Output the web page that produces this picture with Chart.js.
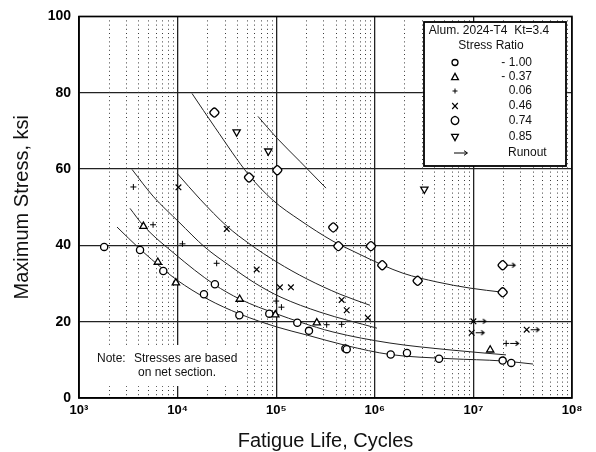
<!DOCTYPE html>
<html>
<head>
<meta charset="utf-8">
<script src="https://cdn.jsdelivr.net/npm/chart.js@4.4.0/dist/chart.umd.min.js"></script>
<style>
  html, body { margin: 0; padding: 0; background: #fff; }
  #wrap { width: 596px; height: 452px; }
</style>
</head>
<body>
<div id="wrap"><canvas id="snChart" width="596" height="452"></canvas></div>
<script>
// Alum. 2024-T4, Kt=3.4 - fatigue life (cycles) vs max stress (ksi)
const FONT = "'Liberation Sans', Arial, sans-serif";

const ratioLabels = ['- 1.00', '- 0.37', '0.06', '0.46', '0.74', '0.85'];

// test points per stress ratio
const cyclesRm100 = [1800, 4160, 7160, 18500, 23900, 42300, 85100, 163700, 215000, 503000, 519000, 1450000, 2120000, 4480000, 19800000, 24200000];
const stressRm100 = [39.6, 38.8, 33.3, 27.2, 29.8, 21.7, 22.1, 19.7, 17.6, 13.0, 12.8, 11.4, 11.8, 10.3, 9.8, 9.2];

const cyclesRm037 = [4500, 6300, 9600, 42600, 98000, 258000, 14800000];
const stressRm037 = [45.0, 35.6, 30.2, 25.9, 21.8, 19.7, 12.6];

const cyclesR006 = [3560, 5640, 11200, 24900, 100000, 113000, 325000, 461000, 21500000];
const stressR006 = [55.3, 45.4, 40.4, 35.3, 25.4, 23.8, 19.2, 19.3, 14.3];

const cyclesR046 = [10200, 31500, 63400, 109000, 141000, 461000, 519000, 850000, 10000000, 9600000, 34700000];
const stressR046 = [55.2, 44.3, 33.7, 29.0, 29.0, 25.7, 23.0, 21.0, 20.1, 17.1, 17.9];

const cyclesR074 = [23600, 53000, 102600, 379000, 427000, 914000, 1190000, 2720000, 19800000, 19800000];
const stressR074 = [74.8, 57.8, 59.7, 44.7, 39.8, 39.8, 34.8, 30.7, 27.7, 34.8];

const cyclesR085 = [39700, 83200, 3180000];
const stressR085 = [69.7, 64.7, 54.7];

// runouts (did not fail)
const runoutCycles = [19800000, 10000000, 9600000, 34700000, 21500000];
const runoutStress = [34.8, 20.1, 17.1, 17.9, 14.3];

// best-fit curves
const fitCycles085 = [65300, 101900, 174200, 320000];
const fitStress085 = [73.8, 68.1, 62.0, 55.0];
const fitCycles074 = [14000, 23950, 53000, 92900, 174200, 376700, 601000, 1211000, 1930000, 4280000, 9240000, 20000000];
const fitStress074 = [79.8, 70.9, 58.4, 51.8, 46.6, 41.1, 38.5, 34.8, 32.7, 30.4, 28.8, 27.7];
const fitCycles046 = [9860, 16900, 31700, 54200, 101900, 205000, 444000, 894000];
const fitStress046 = [58.9, 52.1, 45.0, 40.3, 35.6, 31.2, 27.2, 24.3];
const fitCycles006 = [3450, 5630, 10330, 18970, 33200, 61000, 111900, 278000, 1052000];
const fitStress006 = [59.9, 52.9, 46.1, 39.5, 34.8, 30.1, 26.4, 22.5, 18.3];
const fitCyclesM037 = [3290, 4460, 9420, 23400, 42900, 101900, 174200, 376700, 1426000, 5790000, 21400000];
const fitStressM037 = [49.7, 45.3, 37.7, 29.8, 25.9, 22.0, 19.9, 17.3, 14.4, 12.6, 11.3];
const fitCyclesM100 = [2430, 4160, 7110, 9860, 19870, 42900, 101900, 205000, 522000, 1426000, 5790000, 20000000, 40200000];
const fitStressM100 = [44.8, 39.0, 33.8, 30.9, 26.0, 22.0, 18.6, 16.5, 13.7, 11.4, 10.3, 9.7, 8.9];

// axes
const xDecades = [1e3, 1e4, 1e5, 1e6, 1e7, 1e8];
const xTickLabels = ['10\u00B3', '10\u2074', '10\u2075', '10\u2076', '10\u2077', '10\u2078'];
const minorSteps = [2, 3, 4, 5, 6, 7, 8, 9];
const yTicks = [0, 20, 40, 60, 80, 100];

function toPoints(xs, ys) {
    return xs.map((v, i) => ({ x: v, y: ys[i] }));
}

// arrow drawn to the right of the point centre
function makeRunoutArrow() {
    const c = document.createElement('canvas');
    c.width = 30; c.height = 9;
    const g = c.getContext('2d');
    g.strokeStyle = '#000'; g.lineWidth = 1.1;
    g.beginPath();
    g.moveTo(19, 4.5); g.lineTo(27, 4.5);
    g.moveTo(24.5, 2.2); g.lineTo(27.5, 4.5); g.lineTo(24.5, 6.8);
    g.stroke();
    return c;
}

const arrowImg = makeRunoutArrow();

const markerBase = { showLine: false, borderColor: '#000', backgroundColor: '#fff', pointBorderWidth: 1.3, order: 0 };
const curveBase = { showLine: true, borderColor: '#222', borderWidth: 1, pointRadius: 0, cubicInterpolationMode: 'monotone', fill: false, order: 1 };

const datasets = [
    { ...markerBase, label: ratioLabels[0], data: toPoints(cyclesRm100, stressRm100), pointStyle: 'circle', pointRadius: 3.6 },
    { ...markerBase, label: ratioLabels[1], data: toPoints(cyclesRm037, stressRm037), pointStyle: 'triangle', pointRadius: 4.2 },
    { ...markerBase, label: ratioLabels[2], data: toPoints(cyclesR006, stressR006), pointStyle: 'cross', pointRadius: 3, pointBorderWidth: 1 },
    { ...markerBase, label: ratioLabels[3], data: toPoints(cyclesR046, stressR046), pointStyle: 'crossRot', pointRadius: 4, pointBorderWidth: 1.2 },
    { ...markerBase, label: ratioLabels[4], data: toPoints(cyclesR074, stressR074), pointStyle: 'rectRounded', rotation: 45, pointRadius: 4.4 },
    { ...markerBase, label: ratioLabels[5], data: toPoints(cyclesR085, stressR085), pointStyle: 'triangle', rotation: 180, pointRadius: 4.2 },
    { ...markerBase, label: 'Runout', data: toPoints(runoutCycles, runoutStress), pointStyle: arrowImg, pointRadius: 5 },
    { ...curveBase, label: 'fit 0.85', data: toPoints(fitCycles085, fitStress085) },
    { ...curveBase, label: 'fit 0.74', data: toPoints(fitCycles074, fitStress074) },
    { ...curveBase, label: 'fit 0.46', data: toPoints(fitCycles046, fitStress046) },
    { ...curveBase, label: 'fit 0.06', data: toPoints(fitCycles006, fitStress006) },
    { ...curveBase, label: 'fit -0.37', data: toPoints(fitCyclesM037, fitStressM037) },
    { ...curveBase, label: 'fit -1.00', data: toPoints(fitCyclesM100, fitStressM100) }
];

// dotted minor grid + white note box behind the data
const minorGrid = {
    id: 'minorGrid',
    beforeDatasetsDraw(chart) {
        const { ctx, chartArea: a, scales: { x } } = chart;
        ctx.save();
        ctx.strokeStyle = '#3a3a3a';
        ctx.lineWidth = 1;
        ctx.setLineDash([1, 3.2]);
        xDecades.slice(0, -1).forEach(d => {
            minorSteps.forEach(m => {
                const px = Math.round(x.getPixelForValue(d * m)) + 0.5;
                ctx.beginPath();
                ctx.moveTo(px, a.top + 4);
                ctx.lineTo(px, a.bottom);
                ctx.stroke();
            });
        });
        ctx.setLineDash([]);

        // note
        ctx.fillStyle = '#fff';
        ctx.fillRect(a.left + 1, 345, 161, 41);
        ctx.fillStyle = '#111';
        ctx.font = '12px ' + FONT;
        ctx.textBaseline = 'middle';
        ctx.textAlign = 'left';
        ctx.fillText('Note:', 97, 359);
        ctx.fillText('Stresses are based', 134, 359);
        ctx.fillText('on net section.', 138, 373);
        ctx.restore();
    }
};

function drawLegendMarker(ctx, i, x, y) {
    ctx.save();
    ctx.strokeStyle = '#000';
    ctx.fillStyle = '#fff';
    ctx.lineWidth = 1.3;
    ctx.beginPath();
    if (i === 0) {
        ctx.arc(x, y, 3, 0, Math.PI * 2);
        ctx.fill(); ctx.stroke();
    } else if (i === 1) {
        ctx.moveTo(x, y - 3.6); ctx.lineTo(x + 3.4, y + 2.6); ctx.lineTo(x - 3.4, y + 2.6); ctx.closePath();
        ctx.fill(); ctx.stroke();
    } else if (i === 2) {
        ctx.lineWidth = 1;
        ctx.moveTo(x - 2.5, y); ctx.lineTo(x + 2.5, y);
        ctx.moveTo(x, y - 2.5); ctx.lineTo(x, y + 2.5);
        ctx.stroke();
    } else if (i === 3) {
        ctx.lineWidth = 1.1;
        ctx.moveTo(x - 2.8, y - 3); ctx.lineTo(x + 2.8, y + 3);
        ctx.moveTo(x + 2.8, y - 3); ctx.lineTo(x - 2.8, y + 3);
        ctx.stroke();
    } else if (i === 4) {
        ctx.moveTo(x, y - 4.2);
        ctx.quadraticCurveTo(x + 3.6, y - 3.4, x + 3.8, y);
        ctx.quadraticCurveTo(x + 3.6, y + 3.4, x, y + 4.2);
        ctx.quadraticCurveTo(x - 3.6, y + 3.4, x - 3.8, y);
        ctx.quadraticCurveTo(x - 3.6, y - 3.4, x, y - 4.2);
        ctx.closePath();
        ctx.fill(); ctx.stroke();
    } else if (i === 5) {
        ctx.moveTo(x, y + 3.6); ctx.lineTo(x + 3.4, y - 2.6); ctx.lineTo(x - 3.4, y - 2.6); ctx.closePath();
        ctx.fill(); ctx.stroke();
    }
    ctx.restore();
}

const legendBox = {
    id: 'legendBox',
    afterDatasetsDraw(chart) {
        const { ctx, chartArea: a } = chart;
        ctx.save();
        ctx.fillStyle = '#fff';
        ctx.fillRect(424, 22, 142, 144);
        ctx.strokeStyle = '#000';
        ctx.lineWidth = 1.8;
        ctx.strokeRect(424, 22, 142, 144);

        ctx.fillStyle = '#111';
        ctx.font = '12px ' + FONT;
        ctx.textBaseline = 'middle';
        ctx.textAlign = 'center';
        ctx.fillText('Alum. 2024-T4  Kt=3.4', 489, 31);
        ctx.fillText('Stress Ratio', 491, 46);

        const rowY = [62.5, 77, 91, 106, 120.5, 137, 153];
        ratioLabels.forEach((lab, i) => {
            drawLegendMarker(ctx, i, 455, rowY[i]);
            ctx.textAlign = 'right';
            ctx.fillStyle = '#111';
            ctx.fillText(lab, 532, rowY[i]);
        });
        // runout row
        ctx.strokeStyle = '#000';
        ctx.lineWidth = 1;
        ctx.beginPath();
        ctx.moveTo(454, rowY[6]); ctx.lineTo(467, rowY[6]);
        ctx.moveTo(464, rowY[6] - 2.3); ctx.lineTo(467.5, rowY[6]); ctx.lineTo(464, rowY[6] + 2.3);
        ctx.stroke();
        ctx.textAlign = 'left';
        ctx.fillText('Runout', 508, rowY[6]);

        // plot frame
        ctx.lineWidth = 1.5;
        ctx.strokeRect(a.left, a.top, a.right - a.left, a.bottom - a.top);
        ctx.restore();
    }
};

const axisTitles = {
    id: 'axisTitles',
    afterDraw(chart) {
        const { ctx, chartArea: a } = chart;
        ctx.save();
        ctx.fillStyle = '#111';
        ctx.font = '20px ' + FONT;
        ctx.textAlign = 'center';
        ctx.textBaseline = 'middle';
        ctx.fillText('Fatigue Life, Cycles', (a.left + a.right) / 2, 441);
        ctx.translate(22, (a.top + a.bottom) / 2);
        ctx.rotate(-Math.PI / 2);
        ctx.fillText('Maximum Stress, ksi', 0, 0);
        ctx.restore();
    }
};

const snChart = new Chart(document.getElementById('snChart'), {
    type: 'scatter',
    data: { datasets: datasets },
    options: {
        responsive: false,
        animation: false,
        layout: { padding: { left: 0, right: 24, top: 16, bottom: 0 } },
        plugins: {
            legend: { display: false },
            tooltip: { enabled: false }
        },
        scales: {
            x: {
                type: 'logarithmic',
                min: 1e3,
                max: 1e8,
                afterBuildTicks: s => { s.ticks = xDecades.map(v => ({ value: v })); },
                afterFit: s => { s.height = 54; },
                ticks: {
                    callback: v => xTickLabels[xDecades.indexOf(v)],
                    autoSkip: false,
                    maxRotation: 0,
                    padding: 5,
                    color: '#000',
                    font: { family: FONT, size: 13, weight: 'bold' }
                },
                grid: { color: '#222', lineWidth: 1.3, drawTicks: false },
                border: { color: '#000', width: 1.5 }
            },
            y: {
                min: 0,
                max: 100,
                afterBuildTicks: s => { s.ticks = yTicks.map(v => ({ value: v })); },
                afterFit: s => { s.width = 79; },
                ticks: {
                    padding: 8,
                    color: '#000',
                    font: { family: FONT, size: 14, weight: 'bold' }
                },
                grid: { color: '#222', lineWidth: 1.3, drawTicks: false },
                border: { color: '#000', width: 1.5 }
            }
        }
    },
    plugins: [minorGrid, legendBox, axisTitles]
});
</script>
</body>
</html>
